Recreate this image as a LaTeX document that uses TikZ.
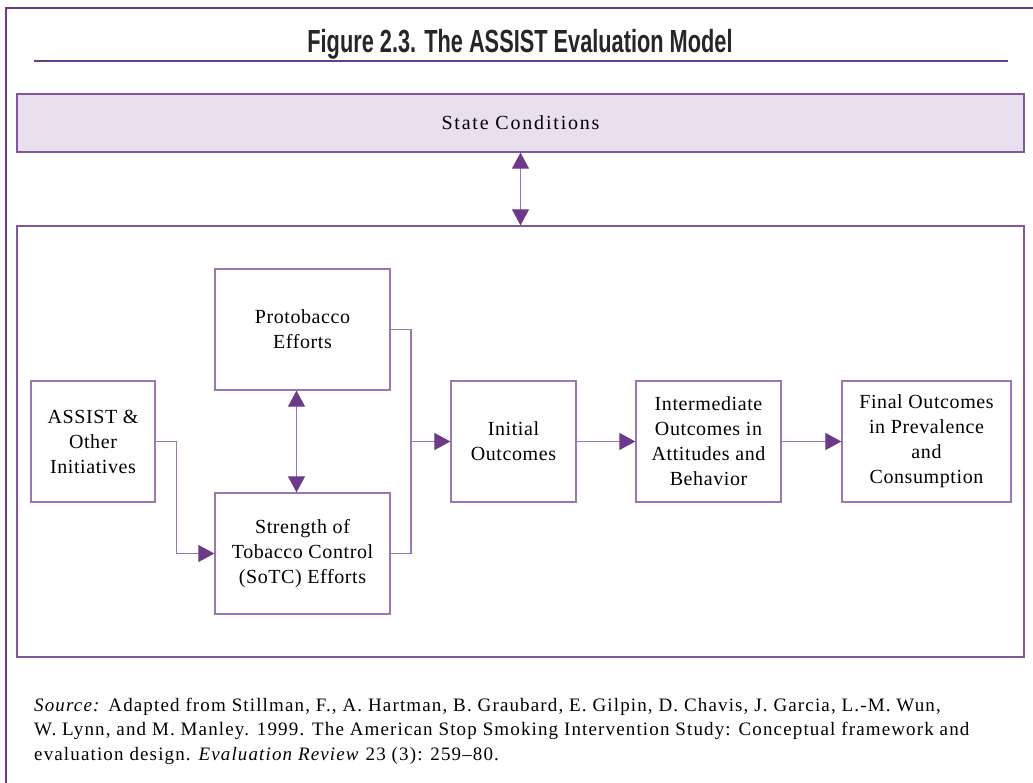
\documentclass[tikz,border=0pt]{standalone}
\usepackage{fontspec}
\setmainfont{Liberation Serif}[LetterSpace=3]
\newfontfamily\headfont[FakeStretch=0.68]{Liberation Sans}
\newfontfamily\statefont[LetterSpace=9]{Liberation Serif}
\newfontfamily\sourcefont[LetterSpace=6]{Liberation Serif}
\usetikzlibrary{arrows.meta}
\definecolor{framepurple}{HTML}{6C3A88}
\definecolor{linepurple}{HTML}{9C76B2}
\definecolor{statefill}{HTML}{E8E0EE}
\tikzset{
  stage/.style={draw=linepurple, line width=1.3pt, align=center, inner sep=0pt,
    font=\fontsize{20}{25}\selectfont},
  link/.style={draw=linepurple, line width=1.2pt},
  tip/.style={-{Triangle[length=16pt,width=17pt,color=framepurple]}},
  bothtips/.style={{Triangle[length=16pt,width=17pt,color=framepurple]}-{Triangle[length=16pt,width=17pt,color=framepurple]}}
}
\begin{document}
\begin{tikzpicture}[x=1pt,y=-1pt]
\useasboundingbox (0,0) rectangle (1033,783);
\draw[framepurple, line width=2.5pt] (6,783) -- (6,8) -- (1033,8);
\node[anchor=base, inner sep=0pt, font=\headfont\bfseries\fontsize{32}{36}\selectfont, text=black!85] (title) at (520,53) {Figure 2.3. The ASSIST Evaluation Model};
\draw[framepurple, line width=2.5pt] (34,61) -- (1008,61);

\node[stage, fill=statefill, draw=framepurple!85, minimum width=1007pt, minimum height=58pt, font=\statefont\fontsize{20}{25}\selectfont] (state) at (520.5,123) {State Conditions};
\node[stage, draw=framepurple!85, minimum width=1007pt, minimum height=431pt] (model) at (520.5,441.5) {};

\node[stage, minimum width=124pt, minimum height=121pt] (assist) at (93,441.5) {ASSIST \&\\Other\\Initiatives};
\node[stage, minimum width=175pt, minimum height=121pt] (proto) at (302.5,329.5) {Protobacco\\Efforts};
\node[stage, minimum width=175pt, minimum height=121pt] (sotc) at (302.5,553.5) {Strength of\\Tobacco Control\\(SoTC) Efforts};
\node[stage, minimum width=125pt, minimum height=121pt] (initial) at (513.5,441.5) {Initial\\Outcomes};
\node[stage, minimum width=145pt, minimum height=121pt] (inter) at (708.5,441.5) {Intermediate\\Outcomes in\\Attitudes and\\Behavior};
\node[stage, minimum width=169pt, minimum height=121pt] (final) at (926.5,441.5) {Final Outcomes\\in Prevalence\\and\\Consumption};
\coordinate (merge) at (411,441.5);

\path[link]
(state.south) edge [bothtips] (model.north)
([xshift=-6pt]proto.south) edge [bothtips] ([xshift=-6pt]sotc.north)
(merge) edge [tip] (initial.west)
(initial) edge [tip] (inter)
(inter) edge [tip] (final);
\draw[link, tip] (assist.east) -- ++(21,0) |- (sotc.west);
\draw[link] (proto.east) -| (merge) |- (sotc.east);

\node[anchor=base west, align=left, inner sep=0pt, font=\sourcefont\fontsize{19}{24.5}\selectfont] (source) at (34,760)
{\textit{Source:} Adapted from Stillman, F., A. Hartman, B. Graubard, E. Gilpin, D. Chavis, J. Garcia, L.-M. Wun,\\
W. Lynn, and M. Manley. 1999. The American Stop Smoking Intervention Study: Conceptual framework and\\
evaluation design. \textit{Evaluation Review} 23 (3): 259–80.};
\end{tikzpicture}
\end{document}
